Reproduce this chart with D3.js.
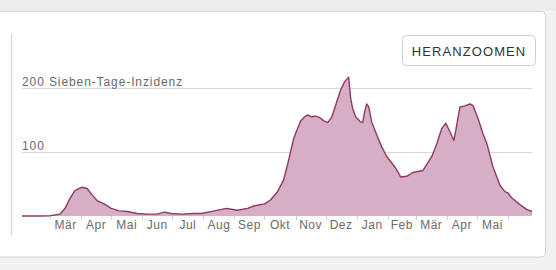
<!DOCTYPE html>
<html>
  <head>
    <meta charset="utf-8">
    <title>Sieben-Tage-Inzidenz</title>
    <script src="https://d3js.org/d3.v7.min.js"></script>
    <style>
      html, body { margin: 0; padding: 0; background: #f1f1f1; }
      svg { display: block; font-family: "Liberation Sans", Arial, sans-serif; }
    </style>
  </head>
  <body>
    <div id="chart"></div>

    <script>
      // Sieben-Tage-Inzidenz
      const dates = [
        '2020-02-02', '2020-02-20', '2020-03-01', '2020-03-06', '2020-03-11', '2020-03-16',
        '2020-03-21', '2020-03-26', '2020-04-02', '2020-04-07', '2020-04-12', '2020-04-17',
        '2020-04-24', '2020-05-01', '2020-05-09', '2020-05-17', '2020-05-27', '2020-06-06',
        '2020-06-16', '2020-06-23', '2020-06-30', '2020-07-10', '2020-07-23', '2020-07-30',
        '2020-08-12', '2020-08-24', '2020-09-04', '2020-09-14', '2020-09-21', '2020-10-01',
        '2020-10-07', '2020-10-14', '2020-10-20', '2020-10-24', '2020-10-27', '2020-10-30',
        '2020-11-01', '2020-11-06', '2020-11-10', '2020-11-13', '2020-11-17', '2020-11-21',
        '2020-11-25', '2020-11-29', '2020-12-03', '2020-12-07', '2020-12-11', '2020-12-16',
        '2020-12-20', '2020-12-24', '2020-12-26', '2020-12-28', '2020-12-31', '2021-01-05',
        '2021-01-07', '2021-01-09', '2021-01-11', '2021-01-13', '2021-01-16', '2021-01-21',
        '2021-01-26', '2021-01-31', '2021-02-08', '2021-02-14', '2021-02-20', '2021-02-26',
        '2021-03-08', '2021-03-17', '2021-03-22', '2021-03-27', '2021-03-31', '2021-04-04',
        '2021-04-08', '2021-04-10', '2021-04-14', '2021-04-19', '2021-04-24', '2021-04-27',
        '2021-05-02', '2021-05-07', '2021-05-11', '2021-05-17', '2021-05-24', '2021-05-29',
        '2021-06-01', '2021-06-05', '2021-06-12', '2021-06-20', '2021-06-25'
      ];
      const incidence = [
        0, 0, 0.5, 1.5, 3, 12,
        28, 40, 45, 43, 33, 24,
        19, 12, 8, 7, 4, 3,
        3, 6, 4, 3, 4, 4,
        8, 12, 9, 12, 16, 19,
        25, 38, 56, 80, 100, 120,
        129, 148, 155, 158, 155, 156,
        154, 149, 146, 154, 173, 197,
        210, 217, 184, 168, 155, 147,
        146, 163, 175, 171, 147, 127,
        108, 93, 77, 61, 62, 68,
        71, 93, 113, 137, 145, 132,
        118, 134, 170, 172, 175, 173,
        153, 129, 113, 77, 48, 38,
        36, 28, 19, 10, 7
      ];
      const gridValues = [100, 200];
      const gridLabels = ['100', '200 Sieben-Tage-Inzidenz'];
      const monthNames = ['Jan', 'Feb', 'Mär', 'Apr', 'Mai', 'Jun', 'Jul', 'Aug', 'Sep', 'Okt', 'Nov', 'Dez'];
      const domainStart = '2020-02-02';
      const domainEnd = '2021-06-25';
      const buttonLabel = 'HERANZOOMEN';

      const parse = d3.utcParse('%Y-%m-%d');
      const series = dates.map((d, i) => ({ date: parse(d), value: incidence[i] }));

      const width = 556, height = 270;

      const x = d3.scaleUtc()
        .domain([parse(domainStart), parse(domainEnd)])
        .range([22, 532]);

      const y = d3.scaleLinear()
        .domain([0, 200])
        .range([216, 88]);

      const svg = d3.select('#chart')
        .append('svg')
        .attr('width', width)
        .attr('height', height);

      // card
      svg.append('rect')
        .attr('x', -6)
        .attr('y', 11.5)
        .attr('width', 551.5)
        .attr('height', 245.5)
        .attr('rx', 4)
        .attr('fill', '#fff')
        .attr('stroke', '#d4d4d4');

      svg.append('rect')
        .attr('x', 0)
        .attr('y', 0)
        .attr('width', width)
        .attr('height', 11)
        .attr('fill', '#ececec');

      // left rule
      svg.append('line')
        .attr('x1', 11.5).attr('x2', 11.5)
        .attr('y1', 34).attr('y2', 235)
        .attr('stroke', '#d0d0d0');

      // gridlines
      svg.selectAll('line.grid')
        .data(gridValues)
        .enter()
        .append('line')
        .attr('class', 'grid')
        .attr('x1', x.range()[0])
        .attr('x2', x.range()[1])
        .attr('y1', d => Math.round(y(d)) + 0.5)
        .attr('y2', d => Math.round(y(d)) + 0.5)
        .attr('stroke', '#d8d8d8');

      // area + line
      svg.append('path')
        .datum(series)
        .attr('d', d3.area()
          .x(d => x(d.date))
          .y0(y(0))
          .y1(d => y(d.value)))
        .attr('fill', '#d6aec5');

      svg.append('path')
        .datum(series)
        .attr('d', d3.line()
          .x(d => x(d.date))
          .y(d => y(d.value)))
        .attr('fill', 'none')
        .attr('stroke', '#8e3a66')
        .attr('stroke-width', 1.4)
        .attr('stroke-linejoin', 'round');

      // gridline labels
      svg.selectAll('text.glabel')
        .data(gridValues)
        .enter()
        .append('text')
        .attr('class', 'glabel')
        .attr('x', 22)
        .attr('y', d => y(d) - 2)
        .attr('fill', '#6a6a6a')
        .attr('font-size', 12)
        .attr('letter-spacing', 0.9)
        .text((d, i) => gridLabels[i]);

      // month ticks and labels
      const months = d3.utcMonth.range(d3.utcMonth.ceil(x.domain()[0]), x.domain()[1]);

      svg.selectAll('line.tick')
        .data(months)
        .enter()
        .append('line')
        .attr('class', 'tick')
        .attr('x1', d => Math.round(x(d)) + 0.5)
        .attr('x2', d => Math.round(x(d)) + 0.5)
        .attr('y1', y(0))
        .attr('y2', y(0) + 4)
        .attr('stroke', '#d0d0d0');

      const fullMonths = months.filter(d => d3.utcMonth.offset(d, 1) <= x.domain()[1]);

      svg.selectAll('text.month')
        .data(fullMonths)
        .enter()
        .append('text')
        .attr('class', 'month')
        .attr('x', d => (x(d) + x(d3.utcMonth.offset(d, 1))) / 2)
        .attr('y', 229)
        .attr('text-anchor', 'middle')
        .attr('fill', '#6a6a6a')
        .attr('font-size', 12)
        .attr('letter-spacing', 0.5)
        .text(d => monthNames[d.getUTCMonth()]);

      // zoom button
      svg.append('rect')
        .attr('x', 402.5)
        .attr('y', 35.5)
        .attr('width', 133)
        .attr('height', 30)
        .attr('rx', 4)
        .attr('fill', '#fff')
        .attr('stroke', '#cfcfcf');

      svg.append('text')
        .attr('x', 469)
        .attr('y', 55.5)
        .attr('text-anchor', 'middle')
        .attr('fill', '#333')
        .attr('font-size', 13)
        .attr('letter-spacing', 1.1)
        .text(buttonLabel);
    </script>
  </body>
</html>
